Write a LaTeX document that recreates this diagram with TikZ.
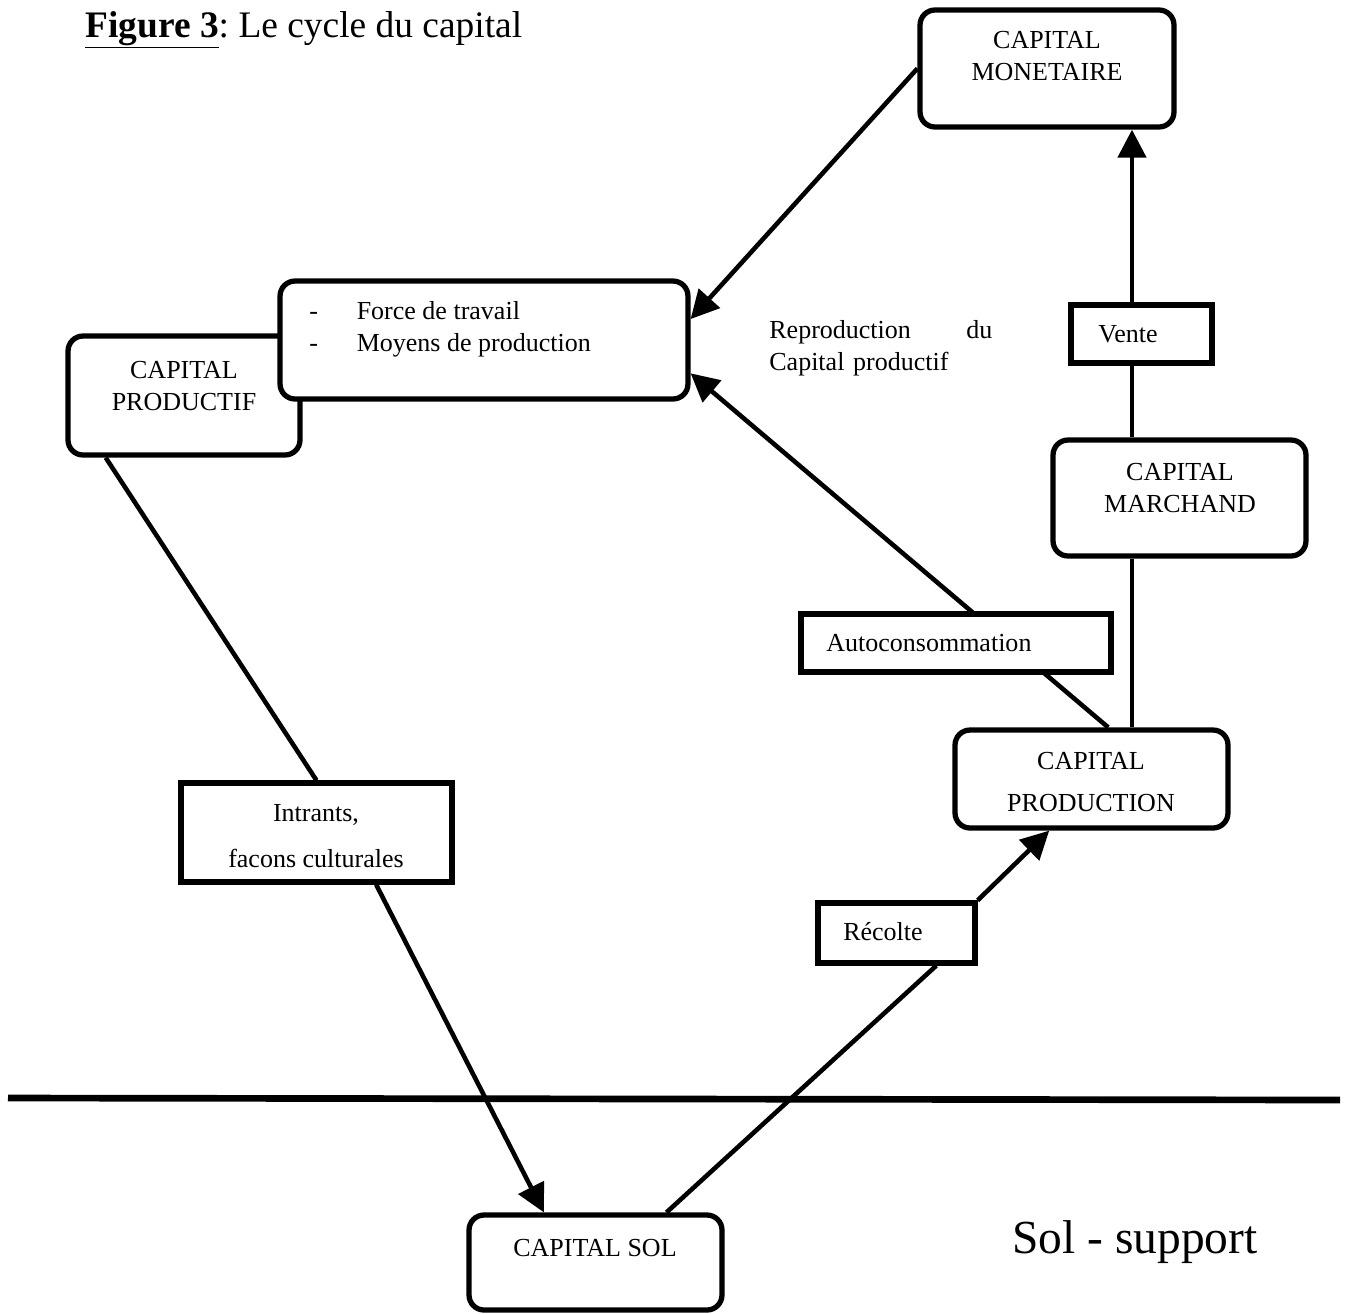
\documentclass[tikz,border=0pt]{standalone}
\usepackage{fontspec}
\setmainfont{Liberation Serif}
\frenchspacing
\usetikzlibrary{arrows.meta,calc,backgrounds}
\begin{document}
\begin{tikzpicture}[x=0.02cm,y=-0.02cm,
 cbox/.style={draw,line width=3pt,rounded corners=0.3cm,fill=white,inner sep=0pt},
 sbox/.style={draw,line width=3pt,fill=white,inner sep=0pt},
 txt/.style={font=\fontsize{14.8}{18}\selectfont,inner sep=0pt,align=center},
 conn/.style={line width=2.6pt},
 arr/.style={conn,-{Triangle[length=16pt,width=16pt]}}
]
\useasboundingbox (0,0) rectangle (1348,1313);

% title
\node[anchor=base west,font=\fontsize{21.3}{26}\selectfont,inner sep=0pt] (title) at (85,37) {\underline{\textbf{Figure 3}}: Le cycle du capital};

% boxes
\node[cbox,minimum width=5.08cm,minimum height=2.34cm] (mon) at (1047,68.5) {};
\node[txt] (monT) at (1047,56) {CAPITAL\\MONETAIRE};

\node[cbox,minimum width=4.64cm,minimum height=2.38cm] (prd) at (184,395.5) {};
\node[txt] (prdT) at (184,386) {CAPITAL\\PRODUCTIF};

\node[cbox,minimum width=8.16cm,minimum height=2.36cm] (frc) at (484,340) {};
\node[txt,align=left,anchor=west] (frcT) at (309,329) {\makebox[27pt][l]{-}Force de travail\\\makebox[27pt][l]{-}Moyens de production};

\node[txt,align=left,text width=127pt,anchor=west] (rep) at (769,348) {Reproduction\hfill du\\Capital productif};

\node[sbox,minimum width=2.82cm,minimum height=1.16cm] (vte) at (1141.5,334) {};
\node[txt] (vteT) at (1128,334) {Vente};

\node[cbox,minimum width=5.06cm,minimum height=2.32cm] (mar) at (1179.5,498) {};
\node[txt] (marT) at (1180,488) {CAPITAL\\MARCHAND};

\node[sbox,minimum width=6.20cm,minimum height=1.16cm] (aut) at (956,643) {};
\node[txt,anchor=west] (autT) at (826,643) {Autoconsommation};

\node[cbox,minimum width=5.46cm,minimum height=1.96cm] (pdn) at (1091.5,779) {};
\node[txt] (pdnT) at (1091,782) {CAPITAL\\[6.4pt]PRODUCTION};

\node[sbox,minimum width=5.42cm,minimum height=1.98cm] (int) at (316.5,832.5) {};
\node[txt] (intT) at (316,836) {Intrants,\\[8pt]facons culturales};

\node[sbox,minimum width=3.14cm,minimum height=1.20cm] (rec) at (896.5,933) {};
\node[txt] (recT) at (883,932) {Récolte};

\node[cbox,minimum width=5.06cm,minimum height=1.90cm] (sol) at (595.5,1262.5) {};
\node[txt] (solT) at (595,1248) {CAPITAL SOL};

\node[anchor=base west,font=\fontsize{27}{32}\selectfont,inner sep=0pt] (sup) at (1012,1253) {Sol - support};

% ground line
\coordinate (gl) at (8,1098);
\coordinate (gr) at (1340,1100);
\draw[line width=3.8pt] (gl) -- (gr);

% connectors
\coordinate (vx) at (1132,0);
\begin{pgfonlayer}{background}
\draw[arr] (mon.west) -- ($(frc.north east)!0.33!(frc.south east)$);
\draw[arr] (vx |- vte.north) -- (vx |- mon.south);
\draw[conn] (vx |- mar.north) -- (vx |- vte.south);
\draw[conn] (vx |- pdn.north) -- (vx |- mar.south);
\draw[arr] ($(pdn.north west)!0.56!(pdn.north east)$) -- ($(frc.north east)!0.77!(frc.south east)$);
\draw[conn] ($(prd.south west)!0.17!(prd.south east)$) -- (int.north);
\draw[arr] ($(int.south west)!0.716!(int.south east)$) -- ($(sol.north west)!0.30!(sol.north east)$);
\draw[conn] ($(sol.north west)!0.775!(sol.north east)$) -- ($(rec.south west)!0.745!(rec.south east)$);
\draw[arr] (rec.north east) -- ($(pdn.south west)!0.348!(pdn.south east)$);
\end{pgfonlayer}
\end{tikzpicture}
\end{document}
